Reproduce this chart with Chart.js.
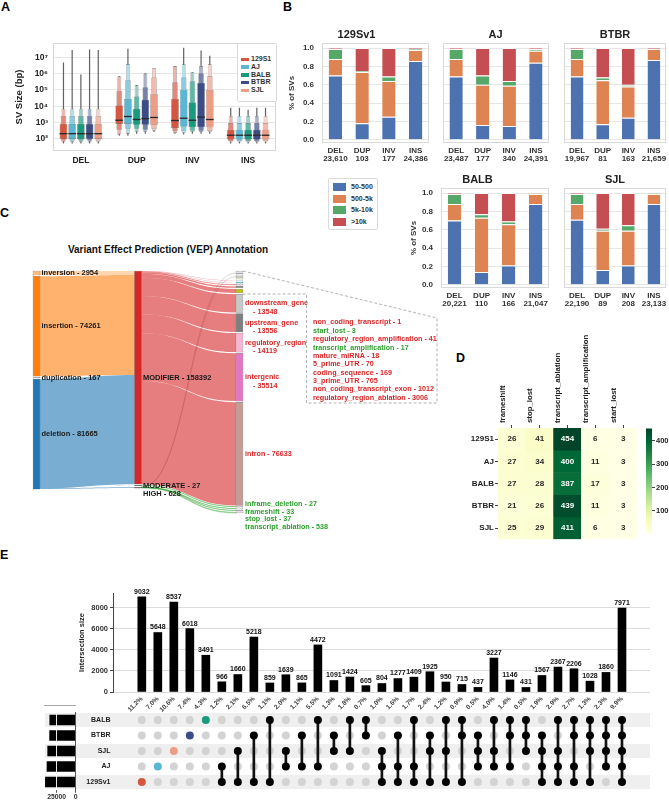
<!DOCTYPE html>
<html>
<head>
<meta charset="utf-8">
<title>Structural variants across five mouse strains</title>
<script src="https://cdn.jsdelivr.net/npm/chart.js@4.4.1/dist/chart.umd.min.js"></script>
<style>
  body { margin: 0; width: 669px; height: 802px; position: relative; overflow: hidden; background: #fff;
         font-family: "Liberation Sans", Arial, sans-serif; }
  canvas { position: absolute; }
  .tag { position: absolute; font-size: 12.5px; font-weight: bold; line-height: 1; color: #000; }
  .legend { position: absolute; z-index: 3; background: #fff; border: 1px solid #dadada; border-radius: 2px;
            font-weight: bold; color: #333; box-sizing: border-box; }
  .legend div { position: absolute; left: 0; white-space: nowrap; }
  .legend span { position: absolute; }
  .title { position: absolute; font-weight: bold; text-align: center; color: #111; }
</style>
</head>
<body>
<div class="tag" style="left:1px;top:1px">A</div>
<div class="tag" style="left:283px;top:1px">B</div>
<div class="tag" style="left:0px;top:207px">C</div>
<div class="tag" style="left:456px;top:352px">D</div>
<div class="tag" style="left:0px;top:549px">E</div>
<div class="title" style="left:0;top:244px;width:336px;font-size:10px">Variant Effect Prediction (VEP) Annotation</div>
<div id="legendA" class="legend" style="left:237px;top:43px;width:40px;height:59px"></div>
<div id="legendB" class="legend" style="left:328px;top:178px;width:50px;height:52px"></div>
<script>
// ---------- data ----------
// A: SV size distributions (boxen plot), [low, high] per strain, then DEL / DUP / INV / INS
const svTypes = ['DEL', 'DUP', 'INV', 'INS'];
const strainsA = ['129S1', 'AJ', 'BALB', 'BTBR', 'SJL'];
const strainColors = ['#d5573f', '#5bb6d1', '#199a7d', '#3c4d86', '#eb9d86'];
const sizeMedian = [
  [200, 1350, 1300, 160], [200, 2300, 1800, 160], [200, 1500, 1350, 160], [200, 1700, 2100, 160], [200, 2000, 1500, 160]
];
const sizeBox1 = [
  [[95, 800], [800, 11000], [450, 28000], [87, 350]],
  [[95, 800], [800, 28000], [550, 105000], [87, 350]],
  [[95, 800], [700, 7000], [500, 17000], [87, 350]],
  [[95, 800], [700, 25000], [500, 270000], [87, 350]],
  [[95, 800], [700, 55000], [500, 100000], [87, 350]]
];
const sizeBox2 = [
  [[75, 2500], [350, 90000], [300, 300000], [70, 900]],
  [[75, 2500], [400, 400000], [300, 600000], [70, 900]],
  [[75, 2500], [400, 40000], [300, 350000], [70, 900]],
  [[75, 2500], [350, 150000], [300, 1100000], [70, 900]],
  [[75, 2500], [400, 600000], [300, 700000], [70, 900]]
];
const sizeBox3 = [
  [[60, 7000], [180, 700000], [220, 3000000], [58, 2500]],
  [[60, 7000], [200, 4000000], [220, 4000000], [58, 2500]],
  [[60, 7000], [250, 200000], [250, 1300000], [58, 2500]],
  [[60, 7000], [250, 1100000], [250, 3000000], [58, 2500]],
  [[60, 7000], [300, 2300000], [250, 4000000], [58, 2500]]
];
const sizeTail = [
  [[50, 5000000], [150, 700000], [200, 3000000], [50, 8000]],
  [[50, 30000000], [150, 35000000], [180, 40000000], [50, 8000]],
  [[50, 900000], [200, 200000], [200, 1300000], [50, 6000]],
  [[50, 32000000], [200, 1100000], [200, 28000000], [50, 8000]],
  [[50, 30000000], [250, 2300000], [200, 13000000], [50, 8000]]
];

// B: share of SVs by size bin; rows = bins, columns = DEL / DUP / INV / INS
const sizeBins = ['50-500', '500-5k', '5k-10k', '>10k'];
const binColors = ['#4c72b0', '#dd8452', '#55a868', '#c44e52'];
const bins129S1 = [[0.70, 0.18, 0.25, 0.86], [0.18, 0.56, 0.39, 0.12], [0.11, 0.01, 0.05, 0.01], [0.01, 0.25, 0.31, 0.01]];
const binsAJ = [[0.69, 0.16, 0.15, 0.84], [0.19, 0.44, 0.44, 0.13], [0.11, 0.10, 0.05, 0.02], [0.01, 0.30, 0.36, 0.01]];
const binsBTBR = [[0.69, 0.17, 0.24, 0.87], [0.19, 0.48, 0.34, 0.12], [0.11, 0.03, 0.02, 0.00], [0.01, 0.32, 0.40, 0.01]];
const binsBALB = [[0.70, 0.14, 0.21, 0.88], [0.18, 0.59, 0.45, 0.11], [0.11, 0.04, 0.03, 0.005], [0.01, 0.23, 0.31, 0.005]];
const binsSJL = [[0.71, 0.16, 0.21, 0.88], [0.17, 0.43, 0.38, 0.11], [0.11, 0.02, 0.06, 0.005], [0.01, 0.39, 0.35, 0.005]];
const counts129S1 = [23610, 103, 177, 24386];
const countsAJ = [23487, 177, 340, 24391];
const countsBTBR = [19967, 81, 163, 21659];
const countsBALB = [20221, 110, 166, 21047];
const countsSJL = [22190, 89, 208, 23133];

// C: VEP sankey
const sourceNodes = ['inversion', 'insertion', 'duplication', 'deletion'];
const sourceCounts = [2954, 74261, 167, 81665];
const impactNodes = ['MODIFIER', 'MODERATE', 'HIGH'];
const impactCounts = [158392, 27, 628];
const consequenceNodes = ['non_coding_transcript', 'start_lost', 'regulatory_region_amplification', 'transcript_amplification',
  'mature_miRNA', '5_prime_UTR', 'coding_sequence', '3_prime_UTR', 'non_coding_transcript_exon', 'regulatory_region_ablation',
  'downstream_gene', 'upstream_gene', 'regulatory_region', 'intergenic', 'intron',
  'inframe_deletion', 'frameshift', 'stop_lost', 'transcript_ablation'];
const consequenceCounts = [1, 3, 41, 17, 18, 70, 169, 705, 1012, 3006, 13548, 13556, 14119, 35514, 76633, 27, 33, 37, 538];
const consequenceImpact = ['MODIFIER', 'HIGH', 'MODIFIER', 'HIGH', 'MODIFIER', 'MODIFIER', 'MODIFIER', 'MODIFIER', 'MODIFIER',
  'MODIFIER', 'MODIFIER', 'MODIFIER', 'MODIFIER', 'MODIFIER', 'MODIFIER', 'MODERATE', 'HIGH', 'HIGH', 'HIGH'];
// SV type -> impact flows (estimated split)
const typeImpactFlows = [
  ['inversion', 'MODIFIER', 2954], ['insertion', 'MODIFIER', 74250], ['insertion', 'HIGH', 11],
  ['duplication', 'MODIFIER', 150], ['duplication', 'HIGH', 17],
  ['deletion', 'MODIFIER', 81038], ['deletion', 'MODERATE', 27], ['deletion', 'HIGH', 600]
];
const calloutCount = 10; // small consequences listed in the dashed box

// D: high impact consequences per strain
const vepEffects = ['frameshift', 'stop_lost', 'transcript_ablation', 'transcript_amplification', 'start_lost'];
const vepStrains = ['129S1', 'AJ', 'BALB', 'BTBR', 'SJL'];
const vepCounts = [[26, 41, 454, 6, 3], [27, 34, 400, 11, 3], [27, 28, 387, 17, 3], [21, 26, 439, 11, 3], [25, 29, 411, 6, 3]];

// E: upset plot
const intersectionSizes = [9032, 5648, 8537, 6018, 3491, 966, 1660, 5218, 859, 1639, 865, 4472, 1091, 1424, 605, 804,
  1277, 1409, 1925, 950, 715, 437, 3227, 1146, 431, 1567, 2367, 2206, 1028, 1860, 7971];
const intersectionPct = [11.2, 7.0, 10.6, 7.4, 4.3, 1.2, 2.1, 6.5, 1.1, 2.0, 1.1, 5.5, 1.3, 1.8, 0.7, 1.0,
  1.6, 1.7, 2.4, 1.2, 0.9, 0.5, 4.0, 1.4, 0.5, 1.9, 2.9, 2.7, 1.3, 2.3, 9.9];
const intersectionSets = [
  ['129Sv1'], ['AJ'], ['SJL'], ['BTBR'], ['BALB'],
  ['AJ', '129Sv1'], ['SJL', '129Sv1'], ['BTBR', '129Sv1'], ['BALB', '129Sv1'],
  ['SJL', 'AJ'], ['BTBR', 'AJ'], ['BALB', 'AJ'], ['BTBR', 'SJL'], ['BALB', 'SJL'], ['BALB', 'BTBR'],
  ['SJL', 'AJ', '129Sv1'], ['BTBR', 'AJ', '129Sv1'], ['BALB', 'AJ', '129Sv1'], ['BTBR', 'SJL', '129Sv1'],
  ['BALB', 'SJL', '129Sv1'], ['BALB', 'BTBR', '129Sv1'], ['BTBR', 'SJL', 'AJ'], ['BALB', 'SJL', 'AJ'],
  ['BALB', 'BTBR', 'AJ'], ['BALB', 'BTBR', 'SJL'],
  ['BTBR', 'SJL', 'AJ', '129Sv1'], ['BALB', 'SJL', 'AJ', '129Sv1'], ['BALB', 'BTBR', 'AJ', '129Sv1'],
  ['BALB', 'BTBR', 'SJL', '129Sv1'], ['BALB', 'BTBR', 'SJL', 'AJ'],
  ['BALB', 'BTBR', 'SJL', 'AJ', '129Sv1']
];
const setNames = ['BALB', 'BTBR', 'SJL', 'AJ', '129Sv1'];
const setSizes = [34161, 34360, 36918, 37861, 39954];
const setColors = ['#199a7d', '#3c4d86', '#eb9d86', '#5bb6d1', '#d5573f'];

// ---------- helpers ----------
Chart.defaults.font.family = '"Liberation Sans", Arial, sans-serif';
Chart.defaults.font.weight = 'bold';
Chart.defaults.font.size = 8;
Chart.defaults.color = '#333';
Chart.defaults.animation = false;
Chart.defaults.responsive = false;
Chart.defaults.plugins.legend.display = false;
Chart.defaults.plugins.tooltip.enabled = false;

const FONT = '"Liberation Sans", Arial, sans-serif';
const fit = size => scale => { if (scale.isHorizontal()) scale.height = size; else scale.width = size; };
const setTicks = values => scale => { scale.ticks = values.map(value => ({ value })); };

function makeCanvas(left, top, w, h) {
  const c = document.createElement('canvas');
  c.width = w; c.height = h;
  c.style.cssText = `left:${left}px;top:${top}px;width:${w}px;height:${h}px`;
  document.body.appendChild(c);
  return c;
}
function rgb(hex) {
  const n = parseInt(hex.slice(1), 16);
  return [n >> 16, (n >> 8) & 255, n & 255];
}
function tint(hex, f) {
  const [r, g, b] = rgb(hex);
  const m = c => Math.round(c + (255 - c) * f);
  return `rgb(${m(r)},${m(g)},${m(b)})`;
}
function fade(hex, a) {
  const [r, g, b] = rgb(hex);
  return `rgba(${r},${g},${b},${a})`;
}

// light border round the plot area (seaborn style)
const framePlugin = {
  id: 'frame',
  afterDatasetsDraw(chart, args, opts) {
    const { left, top, width, height } = chart.chartArea;
    const ctx = chart.ctx;
    ctx.save();
    ctx.strokeStyle = opts.color || '#d6d6d6';
    ctx.lineWidth = 1;
    ctx.strokeRect(Math.round(left) + 0.5, Math.round(top) + 0.5, Math.round(width) - 1, Math.round(height) - 1);
    ctx.restore();
  }
};

// ---------- legends ----------
const legendA = document.getElementById('legendA');
strainsA.forEach((s, i) => {
  const d = document.createElement('div');
  d.style.cssText = `top:${11 + i * 7.8}px;height:8px;line-height:8px;font-size:7px`;
  d.innerHTML = `<span style="left:3px;top:2.5px;width:8px;height:3.5px;background:${strainColors[i]}"></span><span style="left:13px;top:0">${s}</span>`;
  legendA.appendChild(d);
});
const legendB = document.getElementById('legendB');
sizeBins.forEach((b, i) => {
  const d = document.createElement('div');
  d.style.cssText = `top:${4 + i * 11.7}px;height:8px;line-height:8px;font-size:7px`;
  d.innerHTML = `<span style="left:4px;top:0;width:13px;height:8px;background:${binColors[i]}"></span><span style="left:22px;top:0">${b.replace('>', '&gt;')}</span>`;
  legendB.appendChild(d);
});

// ---------- A: boxen plot ----------
const sup = '⁰¹²³⁴⁵⁶⁷⁸⁹';
const sizeLevels = [
  { data: sizeTail, width: 0.14, color: () => 'rgba(70,70,70,0.85)', border: 0, order: 5 },
  { data: sizeBox3, width: 0.45, color: c => tint(c, 0.55), border: 0.6, order: 4 },
  { data: sizeBox2, width: 0.65, color: c => tint(c, 0.3), border: 0.6, order: 3 },
  { data: sizeBox1, width: 0.9, color: c => c, border: 0.6, order: 2 }
];
const boxenSets = [];
strainsA.forEach((s, i) => {
  sizeLevels.forEach(L => boxenSets.push({
    data: L.data[i], stack: s, order: L.order, barPercentage: L.width, categoryPercentage: 0.78,
    backgroundColor: L.color(strainColors[i]), borderColor: 'rgba(45,45,45,0.5)', borderWidth: L.border, borderSkipped: false
  }));
  boxenSets.push({
    data: sizeMedian[i].map(m => [m / 1.1, m * 1.1]), stack: s, order: 1, barPercentage: 0.9, categoryPercentage: 0.78,
    backgroundColor: '#2a2a2a'
  });
});
new Chart(makeCanvas(10, 0, 268, 175), {
  type: 'bar',
  data: { labels: svTypes, datasets: boxenSets },
  options: {
    layout: { padding: { top: 43, right: 2 } },
    scales: {
      x: { grid: { display: false, drawTicks: false }, border: { display: false },
           ticks: { font: { size: 8.5 }, color: '#222', padding: 5, maxRotation: 0 }, afterFit: fit(24) },
      y: { type: 'logarithmic', min: 17, max: 8e7, stacked: false,
           afterBuildTicks: setTicks([1e2, 1e3, 1e4, 1e5, 1e6, 1e7]),
           ticks: { callback: v => '10' + sup[Math.round(Math.log10(v))], font: { size: 8.5 }, color: '#222', padding: 5 },
           grid: { color: '#e6e6e6', drawTicks: false }, border: { display: false },
           title: { display: true, text: 'SV Size (bp)', font: { size: 9.5 }, color: '#222', padding: { top: 4, bottom: 2 } },
           afterFit: fit(43) }
    },
    plugins: { frame: { color: '#d6d6d6' } }
  },
  plugins: [framePlugin]
});

// ---------- B: size bin stacked bars ----------
function sizeBinChart(areaLeft, areaRight, areaTop, areaBottom, axisW, title, values, counts) {
  const left = areaLeft - axisW, top = areaTop - 15;
  const showY = axisW > 0;
  new Chart(makeCanvas(left, top, areaRight - left + 1, areaBottom + 24 - top), {
    type: 'bar',
    data: {
      labels: svTypes.map((t, j) => [t, counts[j].toLocaleString('en-US')]),
      datasets: sizeBins.map((b, k) => ({
        label: b, data: values[k], backgroundColor: binColors[k],
        borderColor: 'rgba(255,255,255,0.7)', borderWidth: { top: 1, left: 0, right: 0, bottom: 0 },
        barPercentage: 0.5, categoryPercentage: 1
      }))
    },
    options: {
      layout: { padding: { right: 1 } },
      scales: {
        x: { stacked: true, grid: { display: false, drawTicks: false }, border: { display: false },
             ticks: { font: { size: 8, lineHeight: 1.1 }, color: '#333', padding: 3, minRotation: 0, maxRotation: 0, autoSkip: false },
             afterFit: fit(24) },
        y: { stacked: true, min: -0.035, max: 1.055, afterBuildTicks: setTicks([0, 0.2, 0.4, 0.6, 0.8, 1]),
             ticks: { display: showY, callback: v => v.toFixed(1), font: { size: 8 }, color: '#333', padding: 8 },
             grid: { color: '#e6e6e6', drawTicks: false }, border: { display: false },
             title: { display: showY, text: '% of SVs', font: { size: 8 }, color: '#333', padding: { top: 4, bottom: 0 } },
             afterFit: fit(axisW) }
      },
      plugins: {
        title: { display: true, text: title, font: { size: 11 }, color: '#222', padding: { top: 0, bottom: 1.8 } },
        frame: { color: '#d9d9d9' }
      }
    },
    plugins: [framePlugin]
  });
}
sizeBinChart(322, 430, 43, 143, 39, '129Sv1', bins129S1, counts129S1);
sizeBinChart(441, 550, 43, 143, 0, 'AJ', binsAJ, countsAJ);
sizeBinChart(562, 668, 43, 143, 0, 'BTBR', binsBTBR, countsBTBR);
sizeBinChart(441, 550, 187.5, 288, 36, 'BALB', binsBALB, countsBALB);
sizeBinChart(562, 668, 187.5, 288, 0, 'SJL', binsSJL, countsSJL);

// ---------- C: sankey ----------
const nodePad = 890, nodeMin = 520; // layout, in count units
function stackColumn(counts) {
  let y = 0;
  return counts.map(v => { const y0 = y, y1 = y + Math.max(v, nodeMin); y = y1 + nodePad; return [y0, y1]; });
}
const consequenceColors = ['#c7c7c7', '#8c8c8c', '#c7c7c7', '#8c8c8c', '#dbdb8d', '#9edae5', '#17becf', '#c7c7c7',
  '#8c8c8c', '#bcbd22', '#c7c7c7', '#7f7f7f', '#f7b6d2', '#e377c2', '#c49c94', '#8c8c8c', '#c7c7c7', '#8c8c8c', '#c7c7c7'];
const sankeyCols = [
  { names: sourceNodes, counts: sourceCounts, colors: ['#ffbb78', '#ff7f0e', '#9a9a9a', '#1f77b4'] },
  { names: impactNodes, counts: impactCounts, colors: ['#d62728', '#555555', '#555555'] },
  { names: consequenceNodes, counts: consequenceCounts, colors: consequenceColors }
];
sankeyCols.forEach(col => { col.spans = stackColumn(col.counts); });
const sankeyMax = Math.max(...sankeyCols.map(c => c.spans[c.spans.length - 1][1]));

const links = [];
typeImpactFlows.forEach(([s, t, v]) => links.push({ col: 0, s: sourceNodes.indexOf(s), t: impactNodes.indexOf(t), v }));
consequenceNodes.forEach((n, i) => links.push({ col: 1, s: impactNodes.indexOf(consequenceImpact[i]), t: i, v: consequenceCounts[i] }));
[0, 1].forEach(c => {
  const ls = links.filter(l => l.col === c);
  const out = {}, inc = {};
  ls.slice().sort((a, b) => a.t - b.t).forEach(l => {
    out[l.s] = out[l.s] || 0; l.sy = sankeyCols[c].spans[l.s][0] + out[l.s]; out[l.s] += l.v;
  });
  ls.slice().sort((a, b) => a.s - b.s).forEach(l => {
    inc[l.t] = inc[l.t] || 0; l.ty = sankeyCols[c + 1].spans[l.t][0] + inc[l.t]; inc[l.t] += l.v;
  });
});

const nodeSets = [];
const maxRows = Math.max(...sankeyCols.map(c => c.names.length));
for (let k = 0; k < maxRows; k++) {
  nodeSets.push({
    data: sankeyCols.map(c => c.spans[k] || null),
    backgroundColor: sankeyCols.map(c => c.colors[k] || 'transparent'),
    borderColor: 'rgba(0,0,0,0.45)', borderWidth: 0.5, borderSkipped: false,
    barThickness: 7, stack: 'nodes', clip: false
  });
}

const sankeyPlugin = {
  id: 'sankey',
  beforeDatasetsDraw(chart) {
    const { ctx, scales: { x, y } } = chart;
    ctx.save();
    links.forEach(l => {
      const x0 = x.getPixelForValue(l.col) + 3.5, x1 = x.getPixelForValue(l.col + 1) - 3.5, xm = (x0 + x1) / 2;
      const s0 = y.getPixelForValue(l.sy), s1 = y.getPixelForValue(l.sy + l.v);
      const t0 = y.getPixelForValue(l.ty), t1 = y.getPixelForValue(l.ty + l.v);
      ctx.beginPath();
      ctx.moveTo(x0, s0);
      ctx.bezierCurveTo(xm, s0, xm, t0, x1, t0);
      ctx.lineTo(x1, t1);
      ctx.bezierCurveTo(xm, t1, xm, s1, x0, s1);
      ctx.closePath();
      const minor = l.col === 1 && l.s !== 0;
      ctx.fillStyle = minor ? 'rgba(44,160,44,0.2)' : fade(sankeyCols[l.col].colors[l.s], 0.6);
      ctx.fill();
      if (minor) {
        const up = l.ty < sankeyCols[2].spans[calloutCount][0];
        ctx.strokeStyle = up ? 'rgba(150,150,150,0.3)' : 'rgba(44,160,44,0.5)';
        ctx.lineWidth = 0.7;
        ctx.stroke();
      }
    });
    ctx.restore();
  },
  afterDatasetsDraw(chart) {
    const { ctx, scales: { x, y } } = chart;
    const mid = span => y.getPixelForValue((span[0] + span[1]) / 2);
    ctx.save();
    ctx.textBaseline = 'middle';
    ctx.font = `bold 7.5px ${FONT}`;
    [0, 1].forEach(c => {
      const col = sankeyCols[c];
      let last = -Infinity;
      col.names.forEach((n, k) => {
        const cy = Math.max(mid(col.spans[k]), last + 8.5); last = cy;
        ctx.fillStyle = '#1a1a1a';
        ctx.fillText(`${n} - ${col.counts[k]}`, x.getPixelForValue(c) + 5, cy);
      });
    });
    const col = sankeyCols[2];
    const xr = x.getPixelForValue(2) + 3.5;
    ctx.font = `bold 7.2px ${FONT}`;
    let last = -Infinity;
    col.names.forEach((n, k) => {
      if (k < calloutCount) return;
      const modifier = consequenceImpact[k] === 'MODIFIER';
      ctx.fillStyle = modifier ? '#d62728' : '#2ca02c';
      const cy = Math.max(mid(col.spans[k]) - (modifier ? 0 : 3), last + 7.6);
      if (modifier && n.length > 6) {
        ctx.fillText(n, xr + 2, cy);
        ctx.fillText(`- ${col.counts[k]}`, xr + 10, cy + 8.5);
        last = cy + 8.5;
      } else {
        ctx.fillText(`${n} - ${col.counts[k]}`, xr + 2, cy);
        last = cy;
      }
    });
    // dashed call-out for the smallest consequences
    const topY = y.getPixelForValue(col.spans[0][0]);
    const botY = y.getPixelForValue(col.spans[calloutCount - 1][1]) + 1;
    const bx0 = xr + 63.5, bx1 = xr + 194, by0 = chart.chartArea.top + 47, by1 = by0 + 85;
    ctx.setLineDash([3, 2]);
    ctx.strokeStyle = '#a0a0a0';
    ctx.lineWidth = 0.8;
    ctx.beginPath();
    ctx.moveTo(xr, topY); ctx.lineTo(bx1, by0); ctx.lineTo(bx1, by1); ctx.lineTo(bx0, by1);
    ctx.lineTo(bx0, botY); ctx.lineTo(xr, botY);
    ctx.stroke();
    ctx.setLineDash([]);
    for (let k = 0; k < calloutCount; k++) {
      ctx.fillStyle = consequenceImpact[k] === 'MODIFIER' ? '#d62728' : '#2ca02c';
      ctx.fillText(`${col.names[k]} - ${col.counts[k]}`, bx0 + 6.5, by0 + 4.5 + k * 8.35);
    }
    ctx.restore();
  }
};
new Chart(makeCanvas(0, 240, 445, 300), {
  type: 'bar',
  data: { labels: ['type', 'impact', 'consequence'], datasets: nodeSets },
  options: {
    layout: { padding: { left: 36.5, top: 31, right: 205.5, bottom: 27 } },
    scales: {
      x: { display: false, offset: false },
      y: { display: false, min: 0, max: sankeyMax, reverse: true, stacked: false }
    }
  },
  plugins: [sankeyPlugin]
});

// ---------- D: heatmap ----------
const vepFlat = vepCounts.flat();
const vepMin = Math.min(...vepFlat), vepMax = Math.max(...vepFlat);
const ylgn = ['#ffffe5', '#f7fcb9', '#d9f0a3', '#addd8e', '#78c679', '#41ab5d', '#238443', '#006837', '#004529'];
function ylgnColor(v) {
  const t = Math.min(1, Math.max(0, (v - vepMin) / (vepMax - vepMin))) * (ylgn.length - 1);
  const i = Math.min(ylgn.length - 2, Math.floor(t)), f = t - i;
  const a = rgb(ylgn[i]), b = rgb(ylgn[i + 1]);
  return `rgb(${a.map((c, j) => Math.round(c + (b[j] - c) * f)).join(',')})`;
}
const cellLabels = {
  id: 'cellLabels',
  afterDatasetsDraw(chart) {
    const ctx = chart.ctx;
    ctx.save();
    ctx.font = `bold 8px ${FONT}`;
    ctx.textAlign = 'center';
    ctx.textBaseline = 'middle';
    chart.data.datasets.forEach((ds, i) => {
      chart.getDatasetMeta(i).data.forEach((el, j) => {
        const v = vepCounts[i][j];
        ctx.fillStyle = (v - vepMin) / (vepMax - vepMin) > 0.6 ? '#ffffff' : '#262626';
        ctx.fillText(v, el.x, (el.y + el.base) / 2);
      });
    });
    ctx.restore();
  }
};
new Chart(makeCanvas(440, 318, 200, 227), {
  type: 'bar',
  data: {
    labels: vepEffects,
    datasets: vepStrains.map((s, i) => ({
      label: s, data: vepEffects.map(() => [i, i + 1]), stack: 'cells',
      backgroundColor: vepCounts[i].map(ylgnColor), barPercentage: 1, categoryPercentage: 1, borderWidth: 0
    }))
  },
  options: {
    layout: { padding: { right: 3 } },
    scales: {
      x: { position: 'top', grid: { drawOnChartArea: false, offset: false, tickLength: 3, color: '#444' }, border: { display: false },
           ticks: { minRotation: 90, maxRotation: 90, autoSkip: false, font: { size: 7.8 }, color: '#222', padding: 2 },
           afterFit: fit(110) },
      y: { min: 0, max: 5, reverse: true, stacked: false, afterBuildTicks: setTicks([0.5, 1.5, 2.5, 3.5, 4.5]),
           ticks: { callback: v => vepStrains[Math.floor(v)], font: { size: 8 }, color: '#222', padding: 1, autoSkip: false },
           grid: { drawOnChartArea: false, tickLength: 3, color: '#444' }, border: { display: false },
           afterFit: fit(58) }
    }
  },
  plugins: [cellLabels]
});
// colour bar
new Chart(makeCanvas(638, 420, 31, 125), {
  type: 'bar',
  data: {
    labels: [''],
    datasets: [{
      data: [[vepMin, vepMax]], barPercentage: 1, categoryPercentage: 1,
      backgroundColor: ctx => {
        const ch = ctx.chart, ys = ch.scales.y;
        if (!ch.chartArea || !ys) return ylgn[4];
        const g = ch.ctx.createLinearGradient(0, ys.getPixelForValue(vepMin), 0, ys.getPixelForValue(vepMax));
        ylgn.forEach((c, i) => g.addColorStop(i / (ylgn.length - 1), c));
        return g;
      }
    }]
  },
  options: {
    layout: { padding: { left: 8, top: 8.4, bottom: 11.4 } },
    scales: {
      x: { display: false },
      y: { position: 'right', min: vepMin, max: vepMax, afterBuildTicks: setTicks([100, 200, 300, 400]),
           ticks: { font: { size: 7.5 }, color: '#222', padding: 1 },
           grid: { drawOnChartArea: false, tickLength: 3, color: '#444' }, border: { display: false },
           afterFit: fit(17) }
    }
  }
});

// ---------- E: upset ----------
const xRange = { min: -1.8, max: 31.75 };
const barValues = {
  id: 'barValues',
  afterDatasetsDraw(chart) {
    const ctx = chart.ctx;
    ctx.save();
    ctx.font = `bold 7px ${FONT}`;
    ctx.fillStyle = '#111';
    ctx.textAlign = 'center';
    ctx.textBaseline = 'bottom';
    chart.getDatasetMeta(0).data.forEach((el, i) => ctx.fillText(intersectionSizes[i], el.x, el.y - 1.5));
    ctx.restore();
  }
};
new Chart(makeCanvas(73, 585, 587, 130), {
  type: 'bar',
  data: { datasets: [{ data: intersectionSizes.map((v, i) => ({ x: i, y: v })), backgroundColor: '#000', barThickness: 8 }] },
  options: {
    layout: { padding: { top: 8, right: 10 } },
    scales: {
      x: { type: 'linear', ...xRange, offset: false, grid: { display: false, drawTicks: false }, border: { display: false },
           afterBuildTicks: setTicks(intersectionSizes.map((v, i) => i)),
           ticks: { callback: v => intersectionPct[v].toFixed(1) + '%', minRotation: 45, maxRotation: 45, autoSkip: false,
                    font: { size: 6.6 }, color: '#444', padding: 3 },
           afterFit: fit(23) },
      y: { min: 0, max: 9400, afterBuildTicks: setTicks([0, 2000, 4000, 6000, 8000]),
           ticks: { callback: v => String(v), font: { size: 7.5 }, color: '#333', padding: 2 },
           grid: { color: '#dcdcdc', tickLength: 3, tickColor: '#444' }, border: { color: '#444' },
           title: { display: true, text: 'Intersection size', font: { size: 7.5 }, color: '#222', padding: { top: 4, bottom: 2 } },
           afterFit: fit(40) }
    }
  },
  plugins: [barValues]
});

// membership matrix
const greyDots = [], memberDots = [], memberColors = [], memberLines = [];
intersectionSets.forEach((sets, i) => {
  const rows = sets.map(s => setNames.indexOf(s));
  setNames.forEach((s, r) => {
    if (rows.includes(r)) {
      memberDots.push({ x: i, y: r });
      memberColors.push(sets.length === 1 ? setColors[r] : '#000');
    } else {
      greyDots.push({ x: i, y: r });
    }
  });
  if (rows.length > 1) memberLines.push({ x: i, y: [Math.min(...rows), Math.max(...rows)] });
});
const rowBands = {
  id: 'rowBands',
  beforeDraw(chart) {
    const { ctx, chartArea, scales: { y } } = chart;
    ctx.save();
    ctx.fillStyle = '#efefef';
    setNames.forEach((s, r) => {
      if (r % 2) return;
      const cy = y.getPixelForValue(r);
      ctx.fillRect(45, cy - 7, chartArea.right - 45, 14);
    });
    ctx.restore();
  }
};
new Chart(makeCanvas(0, 705, 669, 97), {
  type: 'bar',
  data: {
    datasets: [
      { type: 'bar', data: memberLines, backgroundColor: '#111', barThickness: 2, order: 1 },
      { type: 'scatter', data: greyDots, pointRadius: 4, pointBackgroundColor: '#d3d3d3', pointBorderWidth: 0, order: 2 },
      { type: 'scatter', data: memberDots, pointRadius: 4, pointBackgroundColor: memberColors, pointBorderWidth: 0, order: 0 }
    ]
  },
  options: {
    layout: { padding: { top: 7.25, bottom: 12.25, right: 19 } },
    scales: {
      x: { type: 'linear', ...xRange, offset: false, display: false },
      y: { type: 'linear', min: -0.5, max: 4.5, reverse: true, afterBuildTicks: setTicks([0, 1, 2, 3, 4]),
           ticks: { callback: v => setNames[v], font: { size: 7 }, color: '#222', padding: 2.5, autoSkip: false },
           grid: { display: false, drawTicks: false }, border: { display: false }, afterFit: fit(113) }
    }
  },
  plugins: [rowBands]
});

// set sizes
new Chart(makeCanvas(30, 705, 50, 97), {
  type: 'bar',
  data: { labels: setNames, datasets: [{ data: setSizes, backgroundColor: '#000', barThickness: 10 }] },
  options: {
    indexAxis: 'y',
    layout: { padding: { left: 14, right: 4.4, top: 7.25 } },
    scales: {
      x: { min: 0, max: 41800, reverse: true, afterBuildTicks: setTicks([0, 25000]),
           ticks: { callback: v => String(v), font: { size: 6.8 }, color: '#333', padding: 0, maxRotation: 0, autoSkip: false },
           grid: { color: 'rgba(255,255,255,0.9)', z: 1, tickLength: 3, tickColor: '#555' },
           border: { color: '#555' }, afterFit: fit(12.25) },
      y: { position: 'right', ticks: { display: false },
           grid: { drawOnChartArea: false, drawTicks: false }, border: { color: '#555', z: 2 }, afterFit: fit(0) }
    }
  }
});
</script>
</body>
</html>
